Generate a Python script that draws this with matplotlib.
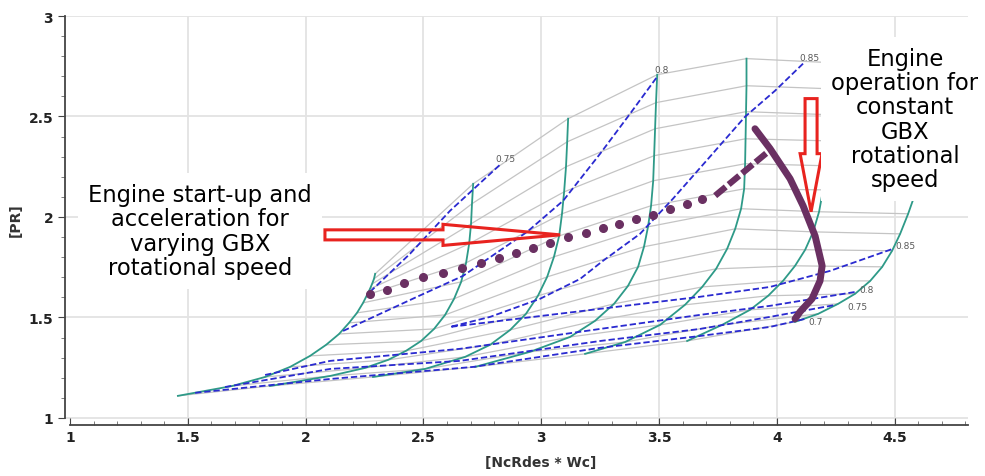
import matplotlib
matplotlib.use("Agg")
import matplotlib.pyplot as plt
from matplotlib.patches import FancyArrow
from matplotlib.ticker import MultipleLocator, FuncFormatter

# speed lines (teal), points listed from choke end (bottom) to surge end (top)
n1_x = [1.458, 1.688, 1.828, 1.934, 2.019, 2.087, 2.142, 2.184, 2.218, 2.244, 2.261, 2.273, 2.282, 2.290, 2.295]
n1_y = [1.110, 1.159, 1.204, 1.254, 1.309, 1.364, 1.418, 1.473, 1.523, 1.573, 1.613, 1.642, 1.667, 1.692, 1.717]
n2_x = [1.849, 2.104, 2.252, 2.350, 2.426, 2.490, 2.545, 2.592, 2.630, 2.660, 2.681, 2.694, 2.702, 2.706, 2.711]
n2_y = [1.159, 1.209, 1.249, 1.289, 1.334, 1.383, 1.443, 1.513, 1.593, 1.677, 1.772, 1.867, 1.966, 2.066, 2.165]
n3_x = [2.286, 2.507, 2.677, 2.783, 2.868, 2.935, 2.986, 3.025, 3.054, 3.076, 3.088, 3.097, 3.105, 3.110, 3.114]
n3_y = [1.204, 1.244, 1.304, 1.364, 1.438, 1.518, 1.608, 1.702, 1.802, 1.906, 2.016, 2.125, 2.250, 2.374, 2.489]
n4_x = [2.719, 2.952, 3.122, 3.228, 3.309, 3.368, 3.411, 3.436, 3.453, 3.466, 3.475, 3.479, 3.483, 3.487, 3.492]
n4_y = [1.254, 1.329, 1.403, 1.483, 1.568, 1.657, 1.752, 1.852, 1.951, 2.056, 2.180, 2.305, 2.439, 2.569, 2.708]
n5_x = [3.186, 3.356, 3.504, 3.610, 3.683, 3.742, 3.789, 3.823, 3.848, 3.861, 3.865, 3.867, 3.869, 3.871, 3.871]
n5_y = [1.319, 1.378, 1.463, 1.563, 1.652, 1.742, 1.842, 1.941, 2.041, 2.140, 2.265, 2.389, 2.524, 2.653, 2.788]
n6_x = [3.619, 3.767, 3.886, 3.963, 4.026, 4.077, 4.120, 4.154, 4.179, 4.196, 4.205, 4.209, 4.217, 4.222, 4.226]
n6_y = [1.383, 1.463, 1.538, 1.608, 1.682, 1.757, 1.837, 1.926, 2.026, 2.135, 2.255, 2.379, 2.509, 2.638, 2.768]
n7_x = [4.077, 4.175, 4.260, 4.332, 4.396, 4.447, 4.489, 4.523, 4.557, 4.587, 4.608, 4.621, 4.629, 4.633, 4.638]
n7_y = [1.478, 1.518, 1.568, 1.618, 1.682, 1.752, 1.832, 1.916, 2.016, 2.116, 2.230, 2.355, 2.479, 2.609, 2.738]

# efficiency contours (blue dashed)
eff75_up_x = [2.273, 2.443, 2.613, 2.825]
eff75_up_y = [1.627, 1.817, 2.031, 2.260]
eff80_up_x = [2.159, 2.473, 2.668, 2.940, 3.093, 3.250, 3.377, 3.492]
eff80_up_y = [1.433, 1.603, 1.707, 1.926, 2.081, 2.315, 2.514, 2.698]
eff85_x = [4.111, 3.992, 3.865, 3.716, 3.559, 3.419, 3.262, 3.165, 2.995, 2.783, 2.613,
           2.825, 3.250, 3.674, 3.971, 4.226, 4.493]
eff85_y = [2.763, 2.628, 2.499, 2.300, 2.091, 1.916, 1.782, 1.692, 1.593, 1.503, 1.453,
           1.483, 1.543, 1.603, 1.652, 1.732, 1.842]
eff80_lo_x = [1.828, 2.104, 2.655, 3.250, 3.674, 3.971, 4.332]
eff80_lo_y = [1.214, 1.284, 1.344, 1.443, 1.513, 1.558, 1.627]
eff75_lo_x = [1.658, 2.104, 2.655, 3.250, 3.674, 3.971, 4.251]
eff75_lo_y = [1.154, 1.244, 1.284, 1.383, 1.443, 1.503, 1.563]
eff70_lo_x = [1.531, 2.104, 2.711, 3.250, 3.674, 3.971, 4.120]
eff70_lo_y = [1.125, 1.194, 1.254, 1.349, 1.408, 1.453, 1.493]

# engine operating line (purple)
op_dot_x = [2.273, 2.345, 2.418, 2.498, 2.583, 2.664, 2.745, 2.821, 2.893, 2.965,
            3.037, 3.114, 3.190, 3.262, 3.330, 3.402, 3.475, 3.547, 3.619, 3.683]
op_dot_y = [1.618, 1.637, 1.672, 1.702, 1.722, 1.747, 1.772, 1.797, 1.822, 1.847,
            1.871, 1.901, 1.921, 1.946, 1.966, 1.991, 2.011, 2.041, 2.066, 2.091]
op_dash_x = [3.738, 3.963]
op_dash_y = [2.106, 2.325]
op_gbx_x = [3.907, 3.971, 4.056, 4.111, 4.162, 4.192, 4.183, 4.149, 4.098, 4.077]
op_gbx_y = [2.439, 2.340, 2.190, 2.056, 1.906, 1.757, 1.682, 1.593, 1.528, 1.493]

teal = "#2e9a88"
blue = "#2a2ad0"
purple = "#6a3062"
red = "#e8231f"

fig = plt.figure(figsize=(9.85, 4.77), dpi=100)
ax = fig.add_axes([65 / 985, 1 - 426 / 477, 903 / 985, 409 / 477])
ax.set_xlim(0.9788, 4.811)
ax.set_ylim(0.965, 3.0)

# grid
for gx in [1.5, 2, 2.5, 3, 3.5, 4, 4.5]:
    ax.axvline(gx, color="#e3e3e3", lw=1.3, zorder=0)
for gy in [1, 1.5, 2, 2.5, 3]:
    ax.axhline(gy, color="#e3e3e3", lw=1.3, zorder=0)

speeds = [(n1_x, n1_y), (n2_x, n2_y), (n3_x, n3_y), (n4_x, n4_y),
          (n5_x, n5_y), (n6_x, n6_y), (n7_x, n7_y)]

# beta lines connect the same point index on every speed line
for k in range(len(n1_x)):
    bx = [s[0][k] for s in speeds]
    by = [s[1][k] for s in speeds]
    ax.plot(bx, by, color="#c4c4c4", lw=0.9, zorder=1)

for sx, sy in speeds:
    ax.plot(sx, sy, color=teal, lw=1.3, zorder=2)

dash_kw = dict(color=blue, lw=1.3, dashes=(3.5, 1.6), zorder=3)
for ex, ey in [(eff75_up_x, eff75_up_y), (eff80_up_x, eff80_up_y), (eff85_x, eff85_y),
               (eff80_lo_x, eff80_lo_y), (eff75_lo_x, eff75_lo_y), (eff70_lo_x, eff70_lo_y)]:
    ax.plot(ex, ey, **dash_kw)

lab_kw = dict(fontsize=6.5, color="#5a5a5a", textcoords="offset points", zorder=3)
ax.annotate("0.75", (eff75_up_x[-1], eff75_up_y[-1]), xytext=(-3, 1), ha="left", va="bottom", **lab_kw)
ax.annotate("0.8", (eff80_up_x[-1], eff80_up_y[-1]), xytext=(-2, 2), ha="left", va="bottom", **lab_kw)
ax.annotate("0.85", (eff85_x[0], eff85_y[0]), xytext=(-3, 1), ha="left", va="bottom", **lab_kw)
ax.annotate("0.85", (eff85_x[-1], eff85_y[-1]), xytext=(2, 2), ha="left", va="center", **lab_kw)
ax.annotate("0.8", (eff80_lo_x[-1], eff80_lo_y[-1]), xytext=(3, 2), ha="left", va="center", **lab_kw)
ax.annotate("0.75", (eff75_lo_x[-1], eff75_lo_y[-1]), xytext=(8, -1), ha="left", va="center", **lab_kw)
ax.annotate("0.7", (eff70_lo_x[-1], eff70_lo_y[-1]), xytext=(2, -2), ha="left", va="center", **lab_kw)

# operating line
ax.plot(op_dot_x, op_dot_y, ls="none", marker="o", ms=5.5, color=purple, zorder=4)
ax.plot(op_dash_x, op_dash_y, color=purple, lw=4.5, dashes=(2.2, 0.6), solid_capstyle="butt", zorder=4)
ax.plot(op_gbx_x, op_gbx_y, color=purple, lw=5, solid_capstyle="round", zorder=4)

# arrows (hollow red block arrows)
ax.add_patch(FancyArrow(4.145, 2.589, 0, -0.563, width=0.051, head_width=0.093,
                        head_length=0.289, length_includes_head=True,
                        fill=False, ec=red, lw=2.2, zorder=4.5))
ax.add_patch(FancyArrow(2.082, 1.911, 0.998, 0, width=0.05, head_width=0.105,
                        head_length=0.497, length_includes_head=True,
                        fill=False, ec=red, lw=2.2, zorder=7))

# text blocks
fig.text(200 / 985, 1 - 232 / 477, "Engine start-up and\nacceleration for\nvarying GBX\nrotational speed",
         ha="center", va="center", fontsize=16.3, linespacing=1.07, zorder=6,
         bbox=dict(boxstyle="square,pad=0.45", fc="white", ec="none"))
fig.text(905 / 985, 1 - 120 / 477, "Engine\noperation for\nconstant\nGBX\nrotational\nspeed",
         ha="center", va="center", fontsize=16.3, linespacing=1.07, zorder=6,
         bbox=dict(boxstyle="square,pad=0.45", fc="white", ec="none"))

# axes styling
for side in ["top", "right"]:
    ax.spines[side].set_visible(False)
ax.spines["left"].set_bounds(1, 3)
ax.spines["bottom"].set_bounds(1, 4.811)
for side in ["left", "bottom"]:
    ax.spines[side].set_color("#444444")
    ax.spines[side].set_linewidth(1.3)
ax.set_xticks([1, 1.5, 2, 2.5, 3, 3.5, 4, 4.5])
ax.set_yticks([1, 1.5, 2, 2.5, 3])
ax.xaxis.set_minor_locator(MultipleLocator(0.1))
ax.yaxis.set_minor_locator(MultipleLocator(0.1))
fmt = FuncFormatter(lambda v, p: "%g" % v)
ax.xaxis.set_major_formatter(fmt)
ax.yaxis.set_major_formatter(fmt)
ax.tick_params(which="major", length=5, color="#444444", labelsize=10, labelcolor="#222222")
ax.tick_params(which="minor", length=3, color="#666666")
ax.tick_params(axis="x", which="both", direction="in")
for lab in ax.get_xticklabels() + ax.get_yticklabels():
    lab.set_fontweight("bold")

fig.text(16 / 985, 1 - 220 / 477, "[PR]", rotation=90, ha="center", va="center",
         fontsize=10, fontweight="bold", color="#333333")
fig.text(541 / 985, 1 - 463 / 477, "[NcRdes * Wc]", ha="center", va="center",
         fontsize=10, fontweight="bold", color="#333333")

fig.savefig("out.png", dpi=100)
